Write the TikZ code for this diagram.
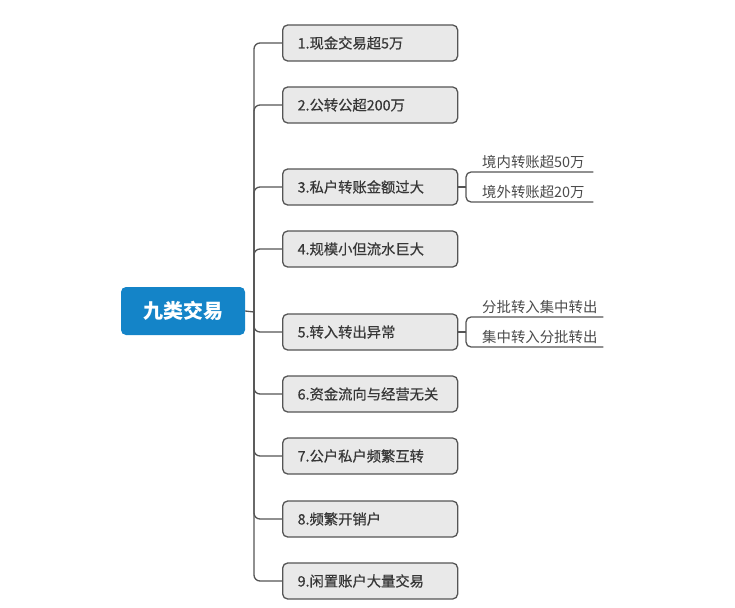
\documentclass[tikz,border=0pt]{standalone}
\usepackage{fontspec}
\newfontfamily\cjk{Noto Sans CJK SC}
\newfontfamily\cjkmid[FakeBold=0.6]{Noto Sans CJK SC}
\usetikzlibrary{positioning}
\definecolor{rootblue}{RGB}{20,132,200}
\definecolor{boxgray}{RGB}{233,233,233}
\definecolor{linegray}{RGB}{85,85,85}
\definecolor{textgray}{RGB}{55,55,55}

\begin{document}
\begin{tikzpicture}[
    x=1pt, y=-1pt,
    line/.style={draw=linegray, line width=1.3pt},
    root/.style={rectangle, fill=rootblue, rounded corners=5pt, minimum width=124pt, minimum height=48pt, text=white, font=\cjk\bfseries\fontsize{20}{24}\selectfont},
    topic/.style={rectangle, draw=linegray, line width=1.3pt, fill=boxgray, rounded corners=5pt, minimum height=36pt, text width=145pt, inner xsep=15pt, align=left, text=textgray, font=\cjkmid\fontsize{14.3}{17}\selectfont},
    sub/.style={inner xsep=3pt, inner ysep=3pt, align=left, text=textgray!90, font=\cjk\fontsize{14.4}{17}\selectfont}
  ]
    \useasboundingbox (0,0) rectangle (735,607);
    \node[root] (root) at (183,311) {九类交易};
    % topics
    \node[topic, anchor=west] (b1) at (282,43) {1.现金交易超5万};
    \node[topic, anchor=west] (b2) at (282,105) {2.公转公超200万};
    \node[topic, anchor=west] (b3) at (282,187) {3.私户转账金额过大};
    \node[topic, anchor=west] (b4) at (282,249) {4.规模小但流水巨大};
    \node[topic, anchor=west] (b5) at (282,332) {5.转入转出异常};
    \node[topic, anchor=west] (b6) at (282,394) {6.资金流向与经营无关};
    \node[topic, anchor=west] (b7) at (282,456) {7.公户私户频繁互转};
    \node[topic, anchor=west] (b8) at (282,519) {8.频繁开销户};
    \node[topic, anchor=west] (b9) at (282,581) {9.闲置账户大量交易};
    % subtopics
    \node[sub, anchor=south west, text width=108pt] (s31) at (479,172) {境内转账超50万};
    \node[sub, anchor=south west, text width=108pt] (s32) at (479,202) {境外转账超20万};
    \node[sub, anchor=south west, text width=118pt] (s51) at (479,317) {分批转入集中转出};
    \node[sub, anchor=south west, text width=118pt] (s52) at (479,347) {集中转入分批转出};
    \coordinate (t) at (254,312);
    \coordinate (j3) at (466,187);
    \coordinate (j5) at (466,332);
    % connectors
    \draw[line] (root.east) -- (t);
    \draw[line, rounded corners=6pt] (b1.west) -| (t) |- (b9.west);
    \foreach \i in {2,...,8}
      \draw[line, rounded corners=6pt] (t) |- (b\i.west);
    \draw[line] (b3.east) -- (j3);
    \draw[line, rounded corners=5pt] (j3) |- (s31.south east);
    \draw[line, rounded corners=5pt] (j3) |- (s32.south east);
    \draw[line] (b5.east) -- (j5);
    \draw[line, rounded corners=5pt] (j5) |- (s51.south east);
    \draw[line, rounded corners=5pt] (j5) |- (s52.south east);
\end{tikzpicture}
\end{document}
